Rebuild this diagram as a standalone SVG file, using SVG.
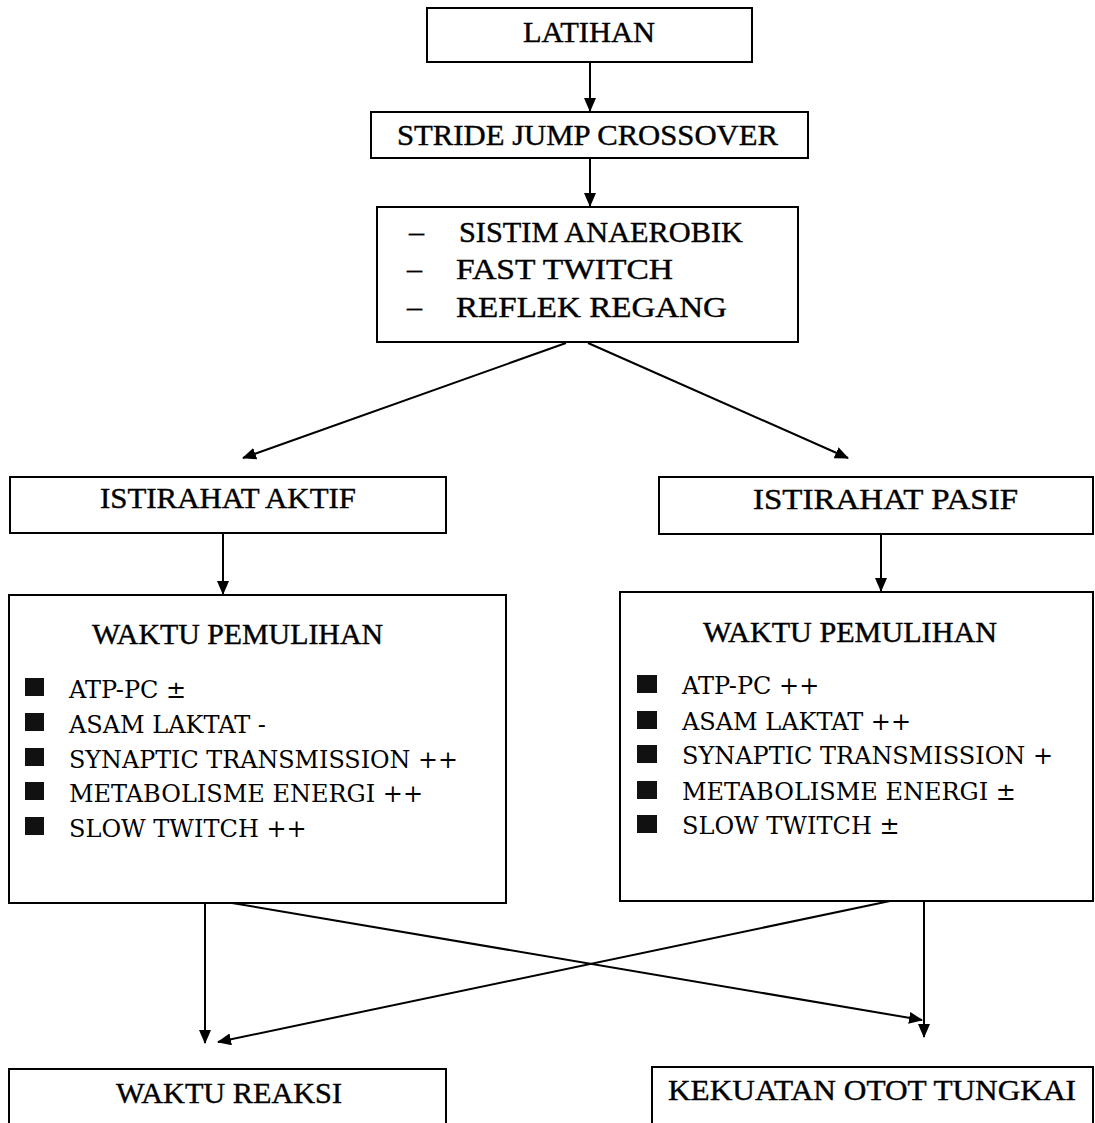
<svg xmlns="http://www.w3.org/2000/svg" width="1095" height="1123" viewBox="0 0 1095 1123">
<style>
.box{fill:#fff;stroke:#000;stroke-width:2}
.t{font-family:"Liberation Serif","Times New Roman",serif;font-size:30px;fill:#000;stroke:#000;stroke-width:0.4}
.i{font-family:"DejaVu Serif","Liberation Serif",serif;font-size:24px;fill:#000}
.c{stroke:#000;stroke-width:2;fill:none;marker-end:url(#ah)}
.b{fill:#111}
</style>
<defs>
<marker id="ah" markerUnits="userSpaceOnUse" markerWidth="14" markerHeight="12" refX="13" refY="6" orient="auto">
<path d="M0,0 L14,6 L0,12 Z" fill="#000"/>
</marker>
</defs>
<rect width="1095" height="1123" fill="#fff"/>
<g id="connectors">
<line class="c" x1="590" y1="62" x2="590" y2="111"/>
<line class="c" x1="590" y1="158" x2="590" y2="206"/>
<line class="c" x1="566" y1="343" x2="243" y2="458"/>
<line class="c" x1="588" y1="343" x2="848" y2="458"/>
<line class="c" x1="223" y1="533" x2="223" y2="594"/>
<line class="c" x1="881" y1="534" x2="881" y2="591"/>
<line class="c" x1="205" y1="903" x2="205" y2="1043"/>
<line class="c" x1="232" y1="903" x2="922" y2="1020"/>
<line class="c" x1="890" y1="901" x2="218" y2="1042"/>
<line class="c" x1="924" y1="901" x2="924" y2="1037"/>
</g>
<g id="latihan">
<rect class="box" x="427" y="8" width="325" height="54"/>
<text class="t" x="523" y="42" textLength="132" lengthAdjust="spacingAndGlyphs">LATIHAN</text>
</g>
<g id="stride">
<rect class="box" x="371" y="112" width="437" height="46"/>
<text class="t" x="397" y="145" textLength="381" lengthAdjust="spacingAndGlyphs">STRIDE JUMP CROSSOVER</text>
</g>
<g id="sistem">
<rect class="box" x="377" y="207" width="421" height="135"/>
<text class="t" x="409" y="242">–</text>
<text class="t" x="459" y="242" textLength="284" lengthAdjust="spacingAndGlyphs">SISTIM ANAEROBIK</text>
<text class="t" x="407" y="279">–</text>
<text class="t" x="456" y="279" textLength="217" lengthAdjust="spacingAndGlyphs">FAST TWITCH</text>
<text class="t" x="407" y="317">–</text>
<text class="t" x="456" y="317" textLength="271" lengthAdjust="spacingAndGlyphs">REFLEK REGANG</text>
</g>
<g id="aktif">
<rect class="box" x="10" y="477" width="436" height="56"/>
<text class="t" x="100" y="508" textLength="256" lengthAdjust="spacingAndGlyphs">ISTIRAHAT AKTIF</text>
</g>
<g id="pasif">
<rect class="box" x="659" y="477" width="434" height="57"/>
<text class="t" x="753" y="509" textLength="265" lengthAdjust="spacingAndGlyphs">ISTIRAHAT PASIF</text>
</g>
<g id="pemulihan-aktif">
<rect class="box" x="9" y="595" width="497" height="308"/>
<text class="t" x="92" y="644" textLength="291" lengthAdjust="spacingAndGlyphs">WAKTU PEMULIHAN</text>
<rect class="b" x="25" y="678" width="19" height="18"/>
<rect class="b" x="25" y="713" width="19" height="18"/>
<rect class="b" x="25" y="748" width="19" height="18"/>
<rect class="b" x="25" y="782" width="19" height="18"/>
<rect class="b" x="25" y="817" width="19" height="18"/>
<text class="i" x="69" y="698">ATP-PC ±</text>
<text class="i" x="69" y="733">ASAM LAKTAT -</text>
<text class="i" x="69" y="768" textLength="389" lengthAdjust="spacingAndGlyphs">SYNAPTIC TRANSMISSION ++</text>
<text class="i" x="69" y="802">METABOLISME ENERGI ++</text>
<text class="i" x="69" y="837">SLOW TWITCH ++</text>
</g>
<g id="pemulihan-pasif">
<rect class="box" x="620" y="592" width="473" height="309"/>
<text class="t" x="703" y="642" textLength="294" lengthAdjust="spacingAndGlyphs">WAKTU PEMULIHAN</text>
<rect class="b" x="637" y="675" width="20" height="18"/>
<rect class="b" x="637" y="711" width="20" height="18"/>
<rect class="b" x="637" y="745" width="20" height="18"/>
<rect class="b" x="637" y="781" width="20" height="18"/>
<rect class="b" x="637" y="815" width="20" height="18"/>
<text class="i" x="682" y="694">ATP-PC ++</text>
<text class="i" x="682" y="730">ASAM LAKTAT ++</text>
<text class="i" x="682" y="764" textLength="371" lengthAdjust="spacingAndGlyphs">SYNAPTIC TRANSMISSION +</text>
<text class="i" x="682" y="800">METABOLISME ENERGI ±</text>
<text class="i" x="682" y="834">SLOW TWITCH ±</text>
</g>
<g id="reaksi">
<rect class="box" x="9" y="1069" width="437" height="70"/>
<text class="t" x="116" y="1103" textLength="226" lengthAdjust="spacingAndGlyphs">WAKTU REAKSI</text>
</g>
<g id="kekuatan">
<rect class="box" x="652" y="1067" width="441" height="70"/>
<text class="t" x="668" y="1100" textLength="408" lengthAdjust="spacingAndGlyphs">KEKUATAN OTOT TUNGKAI</text>
</g>
</svg>
